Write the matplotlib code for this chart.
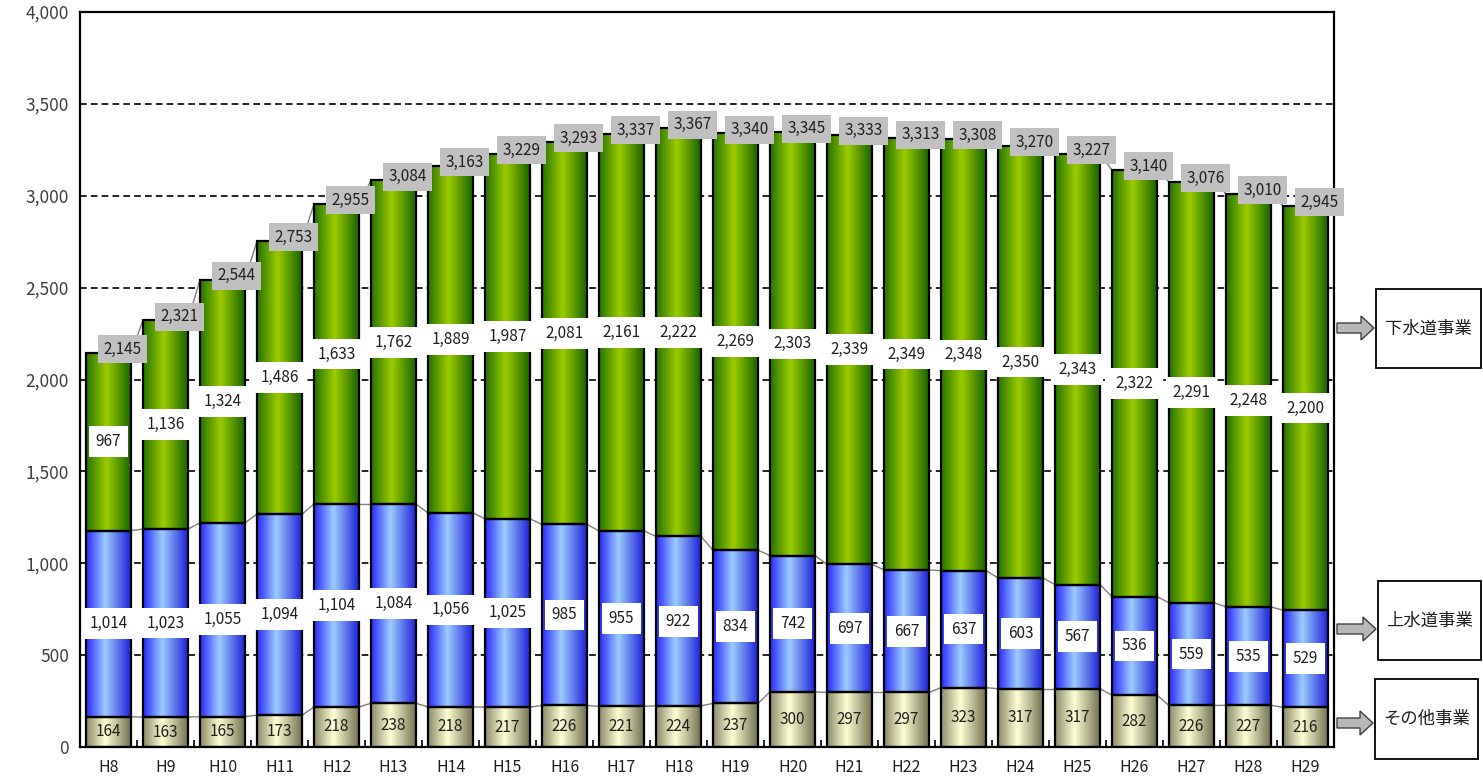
import numpy as np
import matplotlib
matplotlib.use("Agg")
from matplotlib import pyplot as plt
from matplotlib.colors import LinearSegmentedColormap
from matplotlib.patches import Rectangle, FancyArrow

plt.rcParams['font.family'] = ['Noto Sans CJK JP', 'DejaVu Sans']

# fiscal years (Heisei)
years = ["H%d" % y for y in range(8, 30)]

# その他事業 (bottom)
other = [164, 163, 165, 173, 218, 238, 218, 217, 226, 221, 224, 237,
         300, 297, 297, 323, 317, 317, 282, 226, 227, 216]
# 上水道事業 (middle)
water = [1014, 1023, 1055, 1094, 1104, 1084, 1056, 1025, 985, 955, 922, 834,
         742, 697, 667, 637, 603, 567, 536, 559, 535, 529]
# 下水道事業 (top)
sewer = [967, 1136, 1324, 1486, 1633, 1762, 1889, 1987, 2081, 2161, 2222, 2269,
         2303, 2339, 2349, 2348, 2350, 2343, 2322, 2291, 2248, 2200]
# totals shown above the bars
totals = [2145, 2321, 2544, 2753, 2955, 3084, 3163, 3229, 3293, 3337, 3367, 3340,
          3345, 3333, 3313, 3308, 3270, 3227, 3140, 3076, 3010, 2945]

legend_names = ["下水道事業", "上水道事業", "その他事業"]

W, H = 1483, 776
fig = plt.figure(figsize=(W / 100, H / 100), dpi=100)
ax = fig.add_axes([80 / W, 1 - 747 / H, (1334 - 80) / W, (747 - 12) / H])

# gradient colormaps (dark edge, light middle, dark edge)
cmaps = {
    "other": LinearSegmentedColormap.from_list(
        "o", [(0, "#8c8c6c"), (0.42, "#ffffd4"), (1, "#6e6e50")]),
    "water": LinearSegmentedColormap.from_list(
        "w", [(0, "#2a2aff"), (0.42, "#9cccff"), (1, "#1c1cd8")]),
    "sewer": LinearSegmentedColormap.from_list(
        "s", [(0, "#287400"), (0.45, "#9ccc00"), (1, "#146000")]),
}
grad = np.linspace(0, 1, 64)[np.newaxis, :]

n = len(years)
x = np.arange(n)
bw = 0.79

bottoms_w = np.array(other)
bottoms_s = bottoms_w + np.array(water)
tops = bottoms_s + np.array(sewer)

segments = [("other", np.zeros(n), np.array(other)),
            ("water", bottoms_w, np.array(water)),
            ("sewer", bottoms_s, np.array(sewer))]

for name, bot, val in segments:
    for i in range(n):
        x0, x1 = x[i] - bw / 2, x[i] + bw / 2
        y0, y1 = bot[i], bot[i] + val[i]
        ax.imshow(grad, cmap=cmaps[name], extent=(x0, x1, y0, y1),
                  aspect='auto', zorder=2, interpolation='bilinear')
        ax.add_patch(Rectangle((x0, y0), bw, val[i], facecolor='none',
                               edgecolor='black', linewidth=1.6, zorder=3))

# series lines between bars
for level in [bottoms_w, bottoms_s, tops]:
    for i in range(n - 1):
        ax.plot([x[i] + bw / 2, x[i + 1] - bw / 2], [level[i], level[i + 1]],
                color='#808080', linewidth=1, zorder=2.5)

# value labels
lab_size = 11
for i in range(n):
    ax.text(x[i], other[i] / 2, format(other[i], ","), ha='center', va='center',
            fontsize=lab_size, color='#202020', zorder=5)
    ax.text(x[i], bottoms_w[i] + water[i] / 2, format(water[i], ","),
            ha='center', va='center', fontsize=lab_size, color='#202020', zorder=5,
            bbox=dict(facecolor='white', edgecolor='none', pad=5))
    ax.text(x[i], bottoms_s[i] + sewer[i] / 2, format(sewer[i], ","),
            ha='center', va='center', fontsize=lab_size, color='#202020', zorder=5,
            bbox=dict(facecolor='white', edgecolor='none', pad=5))
    ax.text(x[i] + 0.25, totals[i] + 20, format(totals[i], ","),
            ha='center', va='center', fontsize=lab_size, color='#202020', zorder=6,
            bbox=dict(facecolor='#c0c0c0', edgecolor='none', pad=4))

ax.set_xlim(-0.5, n - 0.5)
ax.set_ylim(0, 4000)
ax.set_yticks(np.arange(0, 4001, 500))
ax.set_yticklabels([format(v, ",") for v in range(0, 4001, 500)],
                   fontsize=12.5, color='#404040')
ax.yaxis.grid(True, linestyle=(0, (4, 2.5)), color='black', linewidth=1.2)
ax.set_axisbelow(True)
ax.tick_params(axis='y', length=0, pad=8)

ax.set_xticks(x)
ax.set_xticklabels(years, fontsize=11.5, color='#202020')
ax.set_xticks(np.arange(-0.5, n, 1), minor=True)
ax.tick_params(axis='x', which='major', length=0, pad=9)
ax.tick_params(axis='x', which='minor', direction='in', length=5, width=1.2)

for sp in ax.spines.values():
    sp.set_linewidth(1.6)
    sp.set_color('black')

# legend boxes with arrows, in pixel coordinates
def fx(px):
    return px / W

def fy(py):
    return 1 - py / H

boxes = [(1376, 289, 1481, 368, 328), (1378, 581, 1481, 660, 629),
         (1375, 679, 1478, 759, 723)]
for name, (bx0, by0, bx1, by1, ay) in zip(legend_names, boxes):
    fig.add_artist(Rectangle((fx(bx0), fy(by1)), fx(bx1 - bx0), (by1 - by0) / H,
                             transform=fig.transFigure, facecolor='white',
                             edgecolor='black', linewidth=1.3))
    fig.text(fx((bx0 + bx1) / 2), fy((by0 + by1) / 2), name, ha='center',
             va='center', fontsize=12.5, color='#202020')
    fig.add_artist(FancyArrow(fx(1337), fy(ay), fx(bx0 - 1337 - 2), 0,
                              width=10 / H, head_width=24 / H,
                              head_length=fx(13), length_includes_head=True,
                              transform=fig.transFigure, facecolor='#b8b8b8',
                              edgecolor='#404040', linewidth=1))

fig.savefig("out.png", dpi=100)
